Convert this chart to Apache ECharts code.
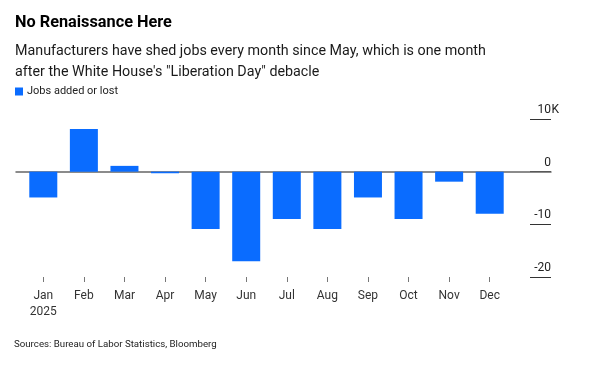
<!DOCTYPE html>
<html><head><meta charset="utf-8">
<script src="https://cdn.jsdelivr.net/npm/echarts@6/dist/echarts.min.js"></script>
<style>html,body{margin:0;padding:0;background:#fff}#c{width:600px;height:365px}</style>
</head><body><div id="c"></div>
<script>
const months = ['Jan','Feb','Mar','Apr','May','Jun','Jul','Aug','Sep','Oct','Nov','Dec'];
const jobs = [-4.9, 8.1, 1.1, -0.3, -10.9, -17.0, -9.0, -10.9, -4.9, -9.0, -1.9, -8.0];
const yearLabel = '2025';
const yMin = -20, yMax = 10, yStep = 10;
const seriesName = 'Jobs added or lost';
const FONT = "Roboto, 'Liberation Sans', Arial, sans-serif";

const chart = echarts.init(document.getElementById('c'));
chart.setOption({
  animation: false,
  textStyle: {fontFamily: FONT},
  title: [
    {text: 'No Renaissance Here', left: 15, top: 15, padding: 0,
     textStyle: {fontSize: 16.3, fontWeight: 'bold', color: '#000', fontFamily: FONT}},
    {text: 'Manufacturers have shed jobs every month since May, which is one month\nafter the White House\'s "Liberation Day" debacle',
     left: 15, top: 41, padding: 0,
     textStyle: {fontSize: 14.3, fontWeight: 'normal', color: '#1a1a1a', lineHeight: 21, fontFamily: FONT}},
    {text: 'Sources: Bureau of Labor Statistics, Bloomberg', left: 14, top: 340, padding: 0,
     textStyle: {fontSize: 9.7, fontWeight: 'normal', color: '#222', fontFamily: FONT}}
  ],
  legend: {
    data: [seriesName], left: 15, top: 86, padding: 0,
    icon: 'rect', itemWidth: 8, itemHeight: 8, itemGap: 4,
    textStyle: {fontSize: 11, color: '#222', padding: [0,0,0,-1]}
  },
  grid: [
    {left: 23, right: 90, top: 119, bottom: 88},
    {left: 16, right: 49, top: 119, bottom: 88},
    {left: 530, right: 49, top: 119, bottom: 88}
  ],
  xAxis: [
    {type: 'category', gridIndex: 0, data: months,
     axisLine: {show: false, onZero: false},
     axisTick: {show: true, alignWithLabel: true, length: 5, lineStyle: {color: '#777'}},
     axisLabel: {fontSize: 12, color: '#333', margin: 11, lineHeight: 16,
       formatter: (v, i) => i === 0 ? v + '\n' + yearLabel : v},
     splitLine: {show: false}},
    {type: 'value', gridIndex: 1, min: 0, max: 1, show: true,
     axisLine: {show: true, onZero: true, lineStyle: {color: '#666', width: 1.5}},
     axisTick: {show: false}, axisLabel: {show: false}, splitLine: {show: false}},
    {type: 'value', gridIndex: 2, min: 0, max: 1, show: false}
  ],
  yAxis: [
    {type: 'value', gridIndex: 0, min: yMin, max: yMax, interval: yStep, show: false},
    {type: 'value', gridIndex: 1, min: yMin, max: yMax, interval: yStep,
     axisLine: {show: false}, axisTick: {show: false}, axisLabel: {show: false}, splitLine: {show: false}},
    {type: 'value', gridIndex: 2, position: 'right', min: yMin, max: yMax, interval: yStep,
     axisLine: {show: false}, axisTick: {show: false},
     splitLine: {show: true, lineStyle: {color: '#333', width: 1}},
     axisLabel: {inside: true, margin: -8, fontSize: 12, color: '#222', align: 'right',
       verticalAlign: 'bottom', padding: [0,0,3,0],
       formatter: v => v === yMax ? v + '{k|K}' : v + '{s| }',
       rich: {k: {fontSize: 12, color: '#222', width: 8}, s: {fontSize: 12, width: 8}}}}
  ],
  series: [
    {name: seriesName, type: 'bar', xAxisIndex: 0, yAxisIndex: 0, data: jobs,
     barCategoryGap: '31%', itemStyle: {color: '#0a6cff'}}
  ]
});
</script></body></html>
